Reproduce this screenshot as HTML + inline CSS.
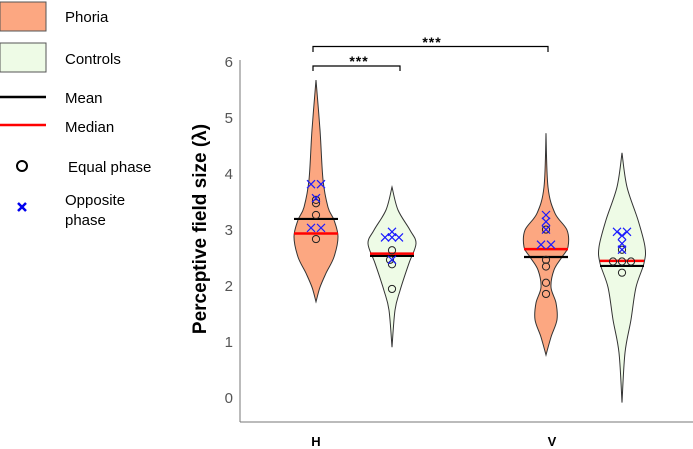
<!DOCTYPE html>
<html><head><meta charset="utf-8"><style>
html,body{margin:0;padding:0;background:#fff;width:693px;height:449px;overflow:hidden}
svg{font-family:"Liberation Sans",sans-serif}
</style></head><body>
<svg id="chart" width="693" height="449" viewBox="0 0 693 449" xmlns="http://www.w3.org/2000/svg">
<g id="legend">
 <rect x="0" y="2" width="46" height="29" fill="#fca781" stroke="#555" stroke-width="1"/>
 <text x="65" y="22" font-size="15">Phoria</text>
 <rect x="0" y="43" width="46" height="29" fill="#eefbe6" stroke="#555" stroke-width="1"/>
 <text x="65" y="64" font-size="15">Controls</text>
 <line x1="0" y1="97" x2="46" y2="97" stroke="#000" stroke-width="2.5"/>
 <text x="65" y="103" font-size="15">Mean</text>
 <line x1="0" y1="125" x2="46" y2="125" stroke="#f00" stroke-width="2.5"/>
 <text x="65" y="132" font-size="15">Median</text>
 <circle cx="22" cy="166" r="5" fill="none" stroke="#000" stroke-width="2"/>
 <text x="68" y="172" font-size="15">Equal phase</text>
 <path d="M18,203L26,211M18,211L26,203" stroke="#0000ee" stroke-width="2.5" fill="none"/>
 <text x="65" y="205" font-size="15">Opposite</text>
 <text x="65" y="225" font-size="15">phase</text>
</g>
<text transform="translate(206,229) rotate(-90)" text-anchor="middle" font-size="19" font-weight="bold">Perceptive field size (λ)</text>
<line x1="240" y1="60" x2="240" y2="422" stroke="#777" stroke-width="1"/>
<line x1="240" y1="422" x2="693" y2="422" stroke="#777" stroke-width="1"/>
<g id="yticks"></g>
<g id="violins"></g>
<g id="sig">
 <path d="M313,52 V46.5 H548 V52" fill="none" stroke="#000" stroke-width="1.2"/>
 <text x="432" y="47" font-size="14" font-weight="bold" text-anchor="middle" letter-spacing="1">***</text>
 <path d="M313,71 V66 H400 V71" fill="none" stroke="#000" stroke-width="1.2"/>
 <text x="359" y="66" font-size="14" font-weight="bold" text-anchor="middle" letter-spacing="1">***</text>
</g>
<text x="316" y="446" font-size="13" font-weight="bold" text-anchor="middle">H</text>
<text x="552" y="446" font-size="13" font-weight="bold" text-anchor="middle">V</text>
</svg>
<script>
const yTicks=[0,1,2,3,4,5,6];
const groups=["H-phoria","H-controls","V-phoria","V-controls"];
const groupX=[316,392,546,622];
const fills=["#fca781","#eefbe6","#fca781","#eefbe6"];
const profileV=[
 [5.66,4.77,3.88,3.39,3.16,2.86,2.5,2.21,1.96,1.7],
 [3.75,3.34,2.98,2.74,2.39,1.9,1.55,0.89],
 [4.71,3.75,3.28,2.98,2.68,2.5,2.27,1.96,1.68,1.38,1.07,0.75],
 [4.36,3.75,3.16,2.68,2.39,1.96,1.38,0.79,-0.1]];
const profileW=[
 [0,4,7,12,18,22,18,10,4,0],
 [0,6,18,24,17,8,3,0],
 [0,2,9,21,22,16,8,5,10,11,5,0],
 [0,5,16,23,22,14,9,3,0]];
const means=[3.18,2.52,2.5,2.34];
const medians=[2.92,2.56,2.64,2.43];
const equalVals=[[3.52,3.46,3.25,2.82],[2.62,2.45,2.37,1.93],[2.99,2.45,2.33,2.04,1.84],[2.63,2.42,2.42,2.42,2.22]];
const equalDx=[[0,0,0,0],[0,-2,0,0],[0,0,0,0,0],[0,-9,0,9,0]];
const oppVals=[[3.8,3.8,3.55,3.02,3.02],[2.95,2.85,2.85,2.85,2.45],[3.25,3.13,2.99,2.72,2.72],[2.95,2.95,2.88,2.74,2.63]];
const oppDx=[[-5,5,0,-5,5],[0,-7,0,7,0],[0,0,0,-5,5],[-5,5,0,0,0]];
const NS="http://www.w3.org/2000/svg";
function y(v){return 397-56*v;}
function mk(t,a,p){const e=document.createElementNS(NS,t);for(const k in a)e.setAttribute(k,a[k]);p.appendChild(e);return e;}
const yt=document.getElementById('yticks');
yTicks.forEach(t=>{
 const e=mk('text',{x:233,y:y(t)+6,'font-size':15,'text-anchor':'end',fill:'#555'},yt);
 
 
 e.textContent=t;
});
function smooth(pts){
 let d='M'+pts[0][0]+','+pts[0][1];
 for(let i=0;i<pts.length-1;i++){
  const p0=pts[Math.max(0,i-1)],p1=pts[i],p2=pts[i+1],p3=pts[Math.min(pts.length-1,i+2)];
  const c1=[p1[0]+(p2[0]-p0[0])/6,p1[1]+(p2[1]-p0[1])/6];
  const c2=[p2[0]-(p3[0]-p1[0])/6,p2[1]-(p3[1]-p1[1])/6];
  d+=' C'+c1[0].toFixed(1)+','+c1[1].toFixed(1)+' '+c2[0].toFixed(1)+','+c2[1].toFixed(1)+' '+p2[0].toFixed(1)+','+p2[1].toFixed(1);
 }
 return d;
}
const vg=document.getElementById('violins');
groups.forEach((g,i)=>{
 const cx=groupX[i];
 const gg=mk('g',{},vg);
 
 
 const right=profileV[i].map((v,k)=>[cx+profileW[i][k],y(v)]);
 const left=profileV[i].map((v,k)=>[cx-profileW[i][k],y(v)]).reverse();
 const d=smooth(right)+' L'+smooth(left).slice(1)+' Z';
 const p=mk('path',{d:d,fill:fills[i],stroke:'#333','stroke-width':1},gg);
 
 
 const mw=22;
 const ml=mk('line',{x1:cx-mw,x2:cx+mw,y1:y(means[i]),y2:y(means[i]),stroke:'#000','stroke-width':2.2},gg);
 
 
 const md=mk('line',{x1:cx-mw,x2:cx+mw,y1:y(medians[i]),y2:y(medians[i]),stroke:'#f00','stroke-width':2.5},gg);
 
 
 equalVals[i].forEach((v,k)=>{
  const c=mk('circle',{cx:cx+equalDx[i][k],cy:y(v),r:3.6,fill:'none',stroke:'#222','stroke-width':1},gg);
  
  
 });
 oppVals[i].forEach((v,k)=>{
  const x0=cx+oppDx[i][k],y0=y(v);
  const c=mk('path',{d:`M${x0-4},${y0-4}L${x0+4},${y0+4}M${x0-4},${y0+4}L${x0+4},${y0-4}`,stroke:'#1a1aff','stroke-width':1.2,fill:'none'},gg);
  
  
 });
});
</script>
</body></html>
